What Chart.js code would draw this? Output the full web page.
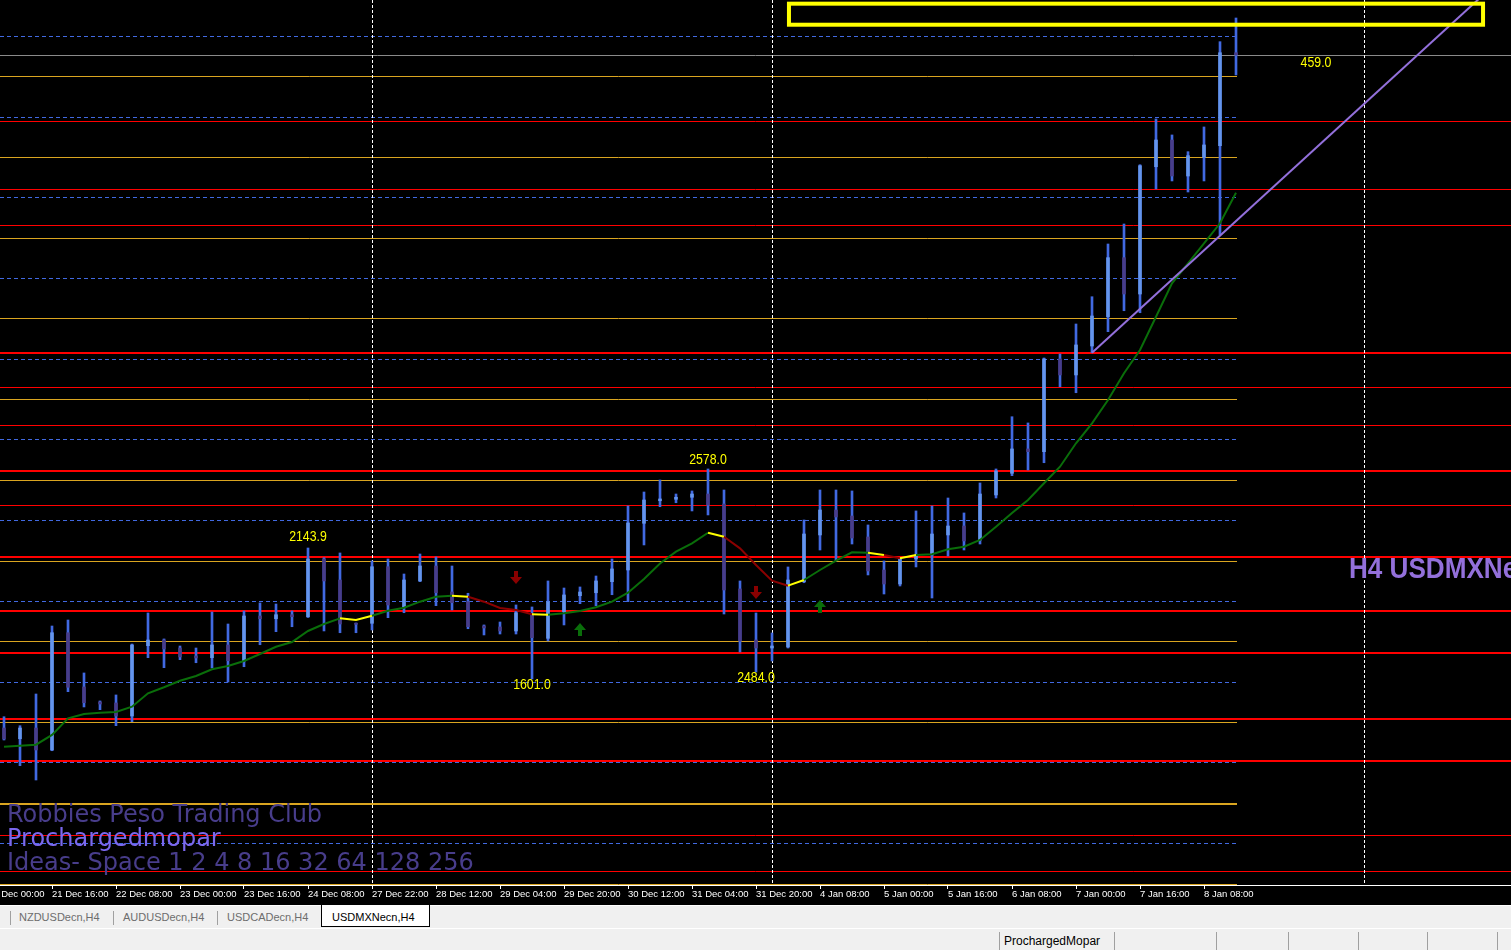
<!DOCTYPE html>
<html>
<head>
<meta charset="utf-8">
<title>USDMXNecn,H4</title>
<script src="https://cdn.jsdelivr.net/npm/chart.js@4.4.1/dist/chart.umd.min.js"></script>
<style>
  html, body { margin: 0; padding: 0; background: #f0f0f0; }
  body { width: 1511px; height: 950px; overflow: hidden; position: relative; font-family: "Liberation Sans", Arial, sans-serif; }
  #chartBox { position: absolute; left: 0; top: 0; width: 1511px; height: 905px; background: #000; }
  #tabs { position: absolute; left: 0; top: 905px; width: 1511px; height: 22px; background: #f0f0f0; border-top: 1px solid #fff; }
  .tab { position: absolute; top: 5px; font-size: 11px; line-height: 13px; color: #6d6d6d; white-space: nowrap; }
  .sep { position: absolute; top: 5px; width: 1px; height: 14px; background: #a0a0a0; }
  #active { position: absolute; left: 321px; top: -1px; width: 107px; height: 21px; background: #fff; border: 1px solid #000; border-top: none; }
  #active span { position: absolute; left: 10px; top: 6px; font-size: 11px; line-height: 13px; color: #000; }
  #status { position: absolute; left: 0; top: 928px; width: 1511px; height: 21px; background: #f0f0f0; border-top: 1px solid #fff; }
  .ssep { position: absolute; top: 3px; width: 1px; height: 18px; background: #a0a0a0; }
  #user { position: absolute; left: 1004px; top: 5px; font-size: 12px; line-height: 14px; color: #000; }
</style>
</head>
<body>
<div id="chartBox"><canvas id="chart"></canvas></div>
<div id="tabs">
  <div class="sep" style="left:10px"></div>
  <div class="tab" style="left:19px">NZDUSDecn,H4</div>
  <div class="sep" style="left:113px"></div>
  <div class="tab" style="left:123px">AUDUSDecn,H4</div>
  <div class="sep" style="left:217px"></div>
  <div class="tab" style="left:227px">USDCADecn,H4</div>
  <div id="active"><span>USDMXNecn,H4</span></div>
</div>
<div id="status">
  <div class="ssep" style="left:999px"></div>
  <div id="user">ProchargedMopar</div>
  <div class="ssep" style="left:1114px"></div>
  <div class="ssep" style="left:1216px"></div>
  <div class="ssep" style="left:1288px"></div>
  <div class="ssep" style="left:1358px"></div>
  <div class="ssep" style="left:1427px"></div>
  <div class="ssep" style="left:1497px"></div>
</div>
<script>
// H4 candles, one per bar index (0 = 21 Dec 04:00)
const opens = [17.190, 17.1766, 17.190, 17.1625, 17.3091, 17.2413, 17.2225, 17.2213, 17.205, 17.2929,
  17.300, 17.290, 17.280, 17.2779, 17.2938, 17.2738, 17.330, 17.3266, 17.3316, 17.3291,
  17.4013, 17.375, 17.3209, 17.3209, 17.3916, 17.3416, 17.3738, 17.3925, 17.360, 17.3479,
  17.3175, 17.3163, 17.3113, 17.3313, 17.3021, 17.3354, 17.3554, 17.3591, 17.3729, 17.3875,
  17.4459, 17.4741, 17.4759, 17.4784, 17.4825, 17.470, 17.3638, 17.300, 17.290, 17.2913,
  17.3729, 17.4313, 17.4625, 17.455, 17.4288, 17.3875, 17.370, 17.4013, 17.4063, 17.4313,
  17.4425, 17.425, 17.4813, 17.5084, 17.5388, 17.5354, 17.6513, 17.6313, 17.6675, 17.7041,
  17.7779, 17.7325, 17.8916, 17.925, 17.880, 17.9034, 17.9179, 18.0341];
const highs = [17.2041, 17.1929, 17.2325, 17.3175, 17.325, 17.2588, 17.2238, 17.2313, 17.295, 17.3338,
  17.3013, 17.2925, 17.290, 17.335, 17.320, 17.3363, 17.3463, 17.345, 17.3363, 17.415,
  17.4029, 17.4088, 17.3213, 17.3988, 17.4013, 17.3825, 17.4075, 17.4038, 17.3925, 17.3584,
  17.3188, 17.3225, 17.3438, 17.3413, 17.3738, 17.365, 17.3663, 17.380, 17.4013, 17.4675,
  17.485, 17.500, 17.4825, 17.4863, 17.5138, 17.4875, 17.3738, 17.3338, 17.3088, 17.3913,
  17.450, 17.4875, 17.4875, 17.4863, 17.4438, 17.3988, 17.4025, 17.4613, 17.4675, 17.4775,
  17.4588, 17.4963, 17.5138, 17.5791, 17.5713, 17.6525, 17.6575, 17.695, 17.7291, 17.795,
  17.820, 17.8941, 17.9513, 17.9313, 17.9104, 17.9413, 18.0479, 18.0775];
const lows = [17.175, 17.1429, 17.125, 17.1616, 17.2354, 17.2163, 17.2129, 17.1929, 17.1979, 17.2779,
  17.2654, 17.2754, 17.2716, 17.265, 17.2475, 17.2666, 17.2941, 17.3104, 17.3166, 17.3281,
  17.3113, 17.3091, 17.3091, 17.3125, 17.3279, 17.3341, 17.3729, 17.3429, 17.3375, 17.3141,
  17.3063, 17.3075, 17.3075, 17.2513, 17.2988, 17.3188, 17.3454, 17.3429, 17.3566, 17.3479,
  17.4188, 17.4666, 17.4716, 17.4613, 17.4563, 17.3325, 17.285, 17.260, 17.2738, 17.290,
  17.3716, 17.4125, 17.3988, 17.420, 17.3813, 17.3575, 17.3675, 17.3913, 17.3525, 17.405,
  17.4125, 17.420, 17.4775, 17.5054, 17.5125, 17.5216, 17.6166, 17.6091, 17.6591, 17.6854,
  17.7116, 17.7091, 17.8638, 17.8738, 17.860, 17.8738, 17.8063, 18.0063];
const closes = [17.1763, 17.190, 17.1625, 17.3091, 17.2409, 17.2216, 17.220, 17.205, 17.2938, 17.300,
  17.2888, 17.2788, 17.2775, 17.2938, 17.2741, 17.330, 17.3266, 17.3316, 17.3291, 17.4013,
  17.3738, 17.320, 17.3196, 17.3916, 17.3438, 17.375, 17.3925, 17.3591, 17.3466, 17.3166,
  17.315, 17.3113, 17.3341, 17.3029, 17.3479, 17.3563, 17.360, 17.3738, 17.3888, 17.4463,
  17.475, 17.4763, 17.4784, 17.4825, 17.4688, 17.3625, 17.2988, 17.290, 17.2925, 17.375,
  17.4325, 17.4625, 17.4538, 17.4275, 17.3863, 17.370, 17.4013, 17.4063, 17.4325, 17.4425,
  17.4238, 17.4825, 17.5113, 17.5388, 17.5354, 17.6513, 17.6313, 17.6688, 17.705, 17.7779,
  17.7325, 17.8929, 17.925, 17.880, 17.9054, 17.9188, 18.0341, 18.0313];

// moving average and its slope state (1 up, 0 flat, -1 down) per segment
const maValues = [17.1666, 17.1679, 17.1691, 17.1813, 17.2021, 17.2075, 17.2091, 17.210, 17.2166, 17.2334,
  17.2409, 17.2491, 17.255, 17.2634, 17.2675, 17.2738, 17.2825, 17.2916, 17.2975, 17.3113,
  17.320, 17.3271, 17.325, 17.3304, 17.3366, 17.3404, 17.3479, 17.3541, 17.3554, 17.3541,
  17.3479, 17.340, 17.3375, 17.3321, 17.3316, 17.3334, 17.3363, 17.3409, 17.3479, 17.3591,
  17.3763, 17.3956, 17.4104, 17.4209, 17.4341, 17.4291, 17.4146, 17.3938, 17.3741, 17.3679,
  17.375, 17.3875, 17.3991, 17.4096, 17.4091, 17.4063, 17.4021, 17.4063, 17.4071, 17.4134,
  17.4166, 17.425, 17.4416, 17.4588, 17.475, 17.4959, 17.5166, 17.5459, 17.5709, 17.600,
  17.6334, 17.6625, 17.7041, 17.7459, 17.7709, 17.7959, 17.8209, 17.8591];
const maTrend = [1, 1, 1, 1, 1, 1, 1, 1, 1, 1, 1, 1, 1, 1, 1, 1, 1, 1, 1, 1,
  1, 0, 0, 1, 1, 1, 1, 1, 0, -1, -1, -1, -1, 0, 1, 1, 1, 1, 1, 1,
  1, 1, 1, 1, 0, -1, -1, -1, -1, 0, 1, 1, 1, 1, 0, -1, 0, 1, 1, 1,
  1, 1, 1, 1, 1, 1, 1, 1, 1, 1, 1, 1, 1, 1, 1, 1, 1, 1];

// signal arrows
const downArrowBars = [32, 47];
const downArrowPrices = [17.3775, 17.3588];
const upArrowBars = [36, 51];
const upArrowPrices = [17.3138, 17.3425];

// zigzag swing labels
const zzBars = [19, 33, 44, 47, 82];
const zzPrices = [17.4288, 17.2438, 17.525, 17.2525, 18.0213];
const zzTexts = ['2143.9', '1601.0', '2578.0', '2484.0', '459.0'];

// horizontal levels
const orangeLevels = [18.005, 17.9038, 17.8025, 17.7025, 17.6013, 17.500, 17.3988, 17.2988, 17.1975, 16.995];
const orangeStrong = [17.0963];
const blueLevels = [18.055, 17.9538, 17.8538, 17.7525, 17.6513, 17.5513, 17.450, 17.3488, 17.2475, 17.1475, 17.0463];
const redStrong = [17.660, 17.5125, 17.405, 17.3375, 17.285, 17.2025, 17.150];
const redWeak = [17.9488, 17.8638, 17.8188, 17.6163, 17.5688, 17.4688, 17.0563, 17.0113];
const bidPrice = 18.0313;

// drawn objects
const trendBars = [68, 94.5];
const trendPrices = [17.6591, 18.1438];
const boxBars = [49.06, 92.44];
const boxPrices = [18.0954, 18.0691];
const periodBars = [23, 48, 85];
const titleBar = 84.06;
const titlePrice = 17.3775;

// time axis
const tickBars = [-1, 3, 7, 11, 15, 19, 23, 27, 31, 35, 39, 43, 47, 51, 55, 59, 63, 67, 71, 75];
const tickLabels = ['21 Dec 00:00', '21 Dec 16:00', '22 Dec 08:00', '23 Dec 00:00', '23 Dec 16:00',
  '24 Dec 08:00', '27 Dec 22:00', '28 Dec 12:00', '29 Dec 04:00', '29 Dec 20:00', '30 Dec 12:00',
  '31 Dec 04:00', '31 Dec 20:00', '4 Jan 08:00', '5 Jan 00:00', '5 Jan 16:00', '6 Jan 08:00',
  '7 Jan 00:00', '7 Jan 16:00', '8 Jan 08:00'];

const lastBar = opens.length - 1;
const trendColors = { '1': '#0a6e0a', '0': '#ffff00', '-1': '#8b0000' };

function arrowImage(color, down) {
  const c = document.createElement('canvas');
  c.width = 12; c.height = 14;
  const g = c.getContext('2d');
  g.fillStyle = color;
  g.beginPath();
  if (down) {
    g.moveTo(4, 0); g.lineTo(8, 0); g.lineTo(8, 6); g.lineTo(12, 6);
    g.lineTo(6, 13); g.lineTo(0, 6); g.lineTo(4, 6);
  } else {
    g.moveTo(4, 14); g.lineTo(8, 14); g.lineTo(8, 8); g.lineTo(12, 8);
    g.lineTo(6, 1); g.lineTo(0, 8); g.lineTo(4, 8);
  }
  g.closePath();
  g.fill();
  return c;
}

const overlay = {
  id: 'overlay',
  beforeDatasetsDraw(chart) {
    const { ctx, chartArea: a, scales: { x, y } } = chart;
    const shortEnd = x.getPixelForValue(lastBar) + 1;
    ctx.save();
    ctx.beginPath();
    ctx.rect(a.left, a.top, a.width, a.height);
    ctx.clip();
    const hline = (p, x2, color, w, dash) => {
      const py = Math.round(y.getPixelForValue(p)) + (w % 2 ? 0.5 : 1);
      ctx.beginPath();
      ctx.setLineDash(dash);
      ctx.strokeStyle = color;
      ctx.lineWidth = w;
      ctx.moveTo(a.left, py);
      ctx.lineTo(x2, py);
      ctx.stroke();
    };
    orangeLevels.forEach(p => hline(p, shortEnd, '#daa520', 1, []));
    orangeStrong.forEach(p => hline(p, shortEnd, '#daa520', 2, []));
    blueLevels.forEach(p => hline(p, shortEnd, '#4169e1', 1, [4, 3]));
    redWeak.forEach(p => hline(p, a.right, '#ff0000', 1, []));
    redStrong.forEach(p => hline(p, a.right, '#ff0000', 2, []));
    hline(bidPrice, a.right, '#8a8a8a', 1, []);
    periodBars.forEach(b => {
      const px = Math.round(x.getPixelForValue(b)) + 0.5;
      ctx.beginPath();
      ctx.setLineDash([3, 2]);
      ctx.strokeStyle = '#ffffff';
      ctx.lineWidth = 1;
      ctx.moveTo(px, a.top);
      ctx.lineTo(px, a.bottom);
      ctx.stroke();
    });
    ctx.restore();
  },
  afterDatasetsDraw(chart) {
    const { ctx, chartArea: a, scales: { x, y } } = chart;
    ctx.save();
    ctx.beginPath();
    ctx.rect(a.left, a.top, a.width, a.height);
    ctx.clip();
    // rectangle object
    const bx1 = x.getPixelForValue(boxBars[0]);
    const bx2 = x.getPixelForValue(boxBars[1]);
    const by1 = y.getPixelForValue(boxPrices[0]);
    const by2 = y.getPixelForValue(boxPrices[1]);
    ctx.setLineDash([]);
    ctx.strokeStyle = '#ffff00';
    ctx.lineWidth = 4;
    ctx.strokeRect(bx1, by1, bx2 - bx1, by2 - by1);
    // zigzag labels
    ctx.fillStyle = '#ffff00';
    ctx.font = '15px "Liberation Sans", Arial, sans-serif';
    ctx.textAlign = 'center';
    ctx.textBaseline = 'middle';
    zzBars.forEach((b, i) => {
      ctx.save();
      ctx.translate(x.getPixelForValue(b), y.getPixelForValue(zzPrices[i]));
      ctx.scale(0.82, 1);
      ctx.fillText(zzTexts[i], 0, 0);
      ctx.restore();
    });
    // symbol caption
    ctx.save();
    ctx.translate(x.getPixelForValue(titleBar), y.getPixelForValue(titlePrice));
    ctx.scale(0.9, 1);
    ctx.fillStyle = '#9370db';
    ctx.font = 'bold 29px "Liberation Sans", Arial, sans-serif';
    ctx.textAlign = 'left';
    ctx.textBaseline = 'alphabetic';
    ctx.fillText('H4 USDMXNecn', 0, 0);
    ctx.restore();
    // corner labels
    ctx.textAlign = 'left';
    ctx.textBaseline = 'alphabetic';
    ctx.font = '24px "DejaVu Sans", Verdana, sans-serif';
    ctx.fillStyle = '#483d8b';
    ctx.fillText('Robbies Peso Trading Club', 7, 822);
    ctx.fillStyle = '#7b68ee';
    ctx.fillText('Prochargedmopar', 7, 846);
    ctx.fillStyle = '#483d8b';
    ctx.fillText('Ideas- Space 1 2 4 8 16 32 64 128 256', 7, 870);
    ctx.restore();
  }
};

const idx = opens.map((_, i) => i);

new Chart(document.getElementById('chart'), {
  type: 'bar',
  data: {
    datasets: [
      {
        type: 'line',
        order: 0,
        data: trendBars.map((b, i) => ({ x: b, y: trendPrices[i] })),
        borderColor: '#9370db',
        borderWidth: 2,
        pointRadius: 0,
        tension: 0
      },
      {
        type: 'line',
        order: 1,
        data: idx.map(i => ({ x: i, y: maValues[i] })),
        borderColor: trendColors['1'],
        borderWidth: 2,
        pointRadius: 0,
        tension: 0,
        segment: { borderColor: c => trendColors[String(maTrend[c.p0DataIndex])] }
      },
      {
        type: 'line',
        order: 2,
        showLine: false,
        data: downArrowBars.map((b, i) => ({ x: b, y: downArrowPrices[i] })),
        pointStyle: arrowImage('#8b0000', true),
        pointRadius: 7
      },
      {
        type: 'line',
        order: 2,
        showLine: false,
        data: upArrowBars.map((b, i) => ({ x: b, y: upArrowPrices[i] })),
        pointStyle: arrowImage('#0a6e0a', false),
        pointRadius: 7
      },
      {
        order: 3,
        data: idx.map(i => ({ x: i, y: [opens[i], closes[i]] })),
        backgroundColor: idx.map(i => closes[i] >= opens[i] ? '#6495ed' : '#483d8b'),
        barThickness: 3,
        minBarLength: 1,
        grouped: false
      },
      {
        order: 4,
        data: idx.map(i => ({ x: i, y: [lows[i], highs[i]] })),
        backgroundColor: '#4169e1',
        barThickness: 2,
        grouped: false
      }
    ]
  },
  options: {
    responsive: true,
    maintainAspectRatio: false,
    animation: false,
    layout: { padding: 0, autoPadding: false },
    plugins: { legend: { display: false }, tooltip: { enabled: false } },
    scales: {
      x: {
        type: 'linear',
        min: -0.25,
        max: 94.1875,
        offset: false,
        afterBuildTicks: scale => { scale.ticks = tickBars.map(v => ({ value: v })); },
        afterFit: scale => {
          scale.height = 20;
          scale.paddingLeft = 0;
          scale.paddingRight = 0;
        },
        grid: { display: true, offset: false, drawOnChartArea: false, drawTicks: true, tickLength: 4, color: '#ffffff' },
        border: { display: true, color: '#ffffff', width: 1 },
        ticks: {
          autoSkip: false,
          maxRotation: 0,
          minRotation: 0,
          align: 'start',
          padding: 0,
          color: '#ffffff',
          font: { family: '"Liberation Sans", Arial, sans-serif', size: 9.5 },
          callback: (v, i) => tickLabels[i]
        }
      },
      y: {
        display: false,
        min: 16.99375,
        max: 18.1,
        beginAtZero: false
      }
    }
  },
  plugins: [overlay]
});
</script>
</body>
</html>
